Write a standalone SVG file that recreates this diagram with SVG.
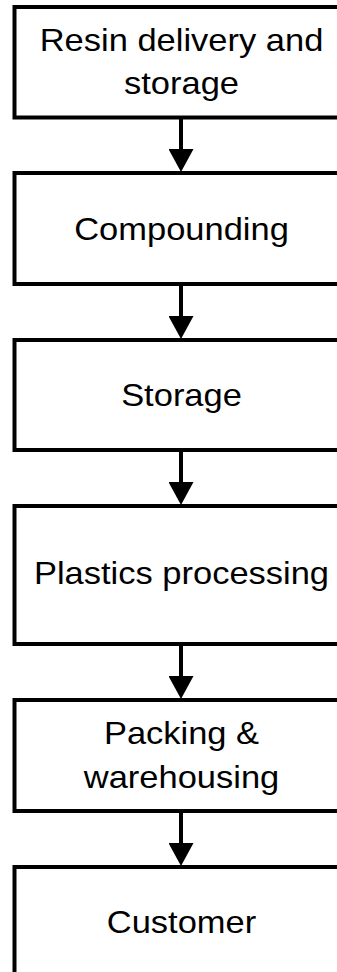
<svg xmlns="http://www.w3.org/2000/svg" width="337" height="972" viewBox="0 0 337 972">
  <style>
    .box { fill: #ffffff; stroke: #000000; stroke-width: 4; }
    .lbl { font-family: "Liberation Sans", Arial, sans-serif; font-size: 31.5px; fill: #000000; text-anchor: middle; }
    .conn { stroke: #000000; stroke-width: 4; fill: none; }
  </style>
  <defs>
    <marker id="arrow" markerUnits="userSpaceOnUse" viewBox="0 0 23 25" markerWidth="23" markerHeight="25" refX="5" refY="12.5" orient="auto">
      <path d="M0,0 L23,12.5 L0,25 Z" fill="#000000"/>
    </marker>
  </defs>
  <rect width="337" height="972" fill="#ffffff"/>

  <g id="connectors">
    <line class="conn" x1="181" y1="117.5" x2="181" y2="154" marker-end="url(#arrow)"/>
    <line class="conn" x1="181" y1="284" x2="181" y2="321" marker-end="url(#arrow)"/>
    <line class="conn" x1="181" y1="450" x2="181" y2="487" marker-end="url(#arrow)"/>
    <line class="conn" x1="181" y1="644" x2="181" y2="681" marker-end="url(#arrow)"/>
    <line class="conn" x1="181" y1="811" x2="181" y2="848" marker-end="url(#arrow)"/>
  </g>

  <g id="node-resin">
    <rect class="box" x="14.5" y="7" width="333" height="110.5"/>
    <text class="lbl" transform="translate(181.5,50.7) scale(1.095,1)">Resin delivery and</text>
    <text class="lbl" transform="translate(181.5,94.3) scale(1.095,1)">storage</text>
  </g>

  <g id="node-compounding">
    <rect class="box" x="14.5" y="173" width="333" height="111"/>
    <text class="lbl" transform="translate(181.5,240) scale(1.095,1)">Compounding</text>
  </g>

  <g id="node-storage">
    <rect class="box" x="14.5" y="340" width="333" height="110"/>
    <text class="lbl" transform="translate(181.5,406) scale(1.095,1)">Storage</text>
  </g>

  <g id="node-plastics">
    <rect class="box" x="14.5" y="506" width="333" height="138"/>
    <text class="lbl" transform="translate(181.5,584) scale(1.095,1)">Plastics processing</text>
  </g>

  <g id="node-packing">
    <rect class="box" x="14.5" y="700" width="333" height="111"/>
    <text class="lbl" transform="translate(181.5,743.5) scale(1.095,1)">Packing &amp;</text>
    <text class="lbl" transform="translate(181.5,787.5) scale(1.095,1)">warehousing</text>
  </g>

  <g id="node-customer">
    <rect class="box" x="14.5" y="867" width="333" height="111"/>
    <text class="lbl" transform="translate(181.5,933) scale(1.095,1)">Customer</text>
  </g>
</svg>
